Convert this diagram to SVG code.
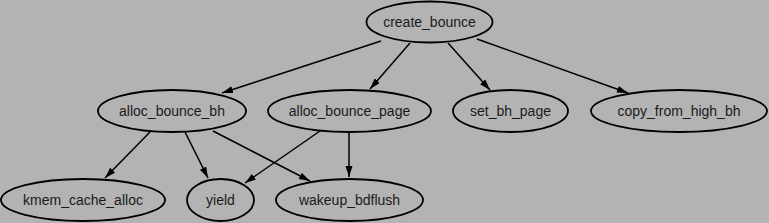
<svg xmlns="http://www.w3.org/2000/svg" width="769" height="223" viewBox="0 0 769 223">
<style>
.n ellipse{fill:none;stroke:#000;stroke-width:1.8}
.n text{font-family:"Liberation Sans",Arial,sans-serif;font-size:14px;fill:#1a1a1a;text-anchor:middle}
#edges line{stroke:#000;stroke-width:1.5;marker-end:url(#ah)}
</style>
<defs>
<marker id="ah" markerUnits="userSpaceOnUse" markerWidth="12" markerHeight="10" refX="11" refY="3.5" orient="auto" viewBox="0 0 12 10">
<path d="M0,0 L11,3.5 L0,7 Z" fill="#000"/>
</marker>
</defs>
<rect width="769" height="223" fill="#b3b3b3"/>
<g id="edges">
<line x1="381" y1="41" x2="222" y2="93"/>
<line x1="410" y1="43" x2="370" y2="89"/>
<line x1="448" y1="43" x2="490" y2="90"/>
<line x1="477" y1="39" x2="628" y2="93"/>
<line x1="150" y1="132" x2="105" y2="178"/>
<line x1="185" y1="132" x2="208" y2="178"/>
<line x1="213" y1="131" x2="310" y2="181"/>
<line x1="320" y1="131" x2="245" y2="183"/>
<line x1="349" y1="132" x2="349" y2="177"/>
</g>
<g id="create_bounce" class="n"><ellipse cx="429.5" cy="22" rx="63" ry="20.5"/><text x="429.5" y="27">create_bounce</text></g>
<g id="alloc_bounce_bh" class="n"><ellipse cx="172" cy="111" rx="74" ry="21"/><text x="172" y="116">alloc_bounce_bh</text></g>
<g id="alloc_bounce_page" class="n"><ellipse cx="349.5" cy="111" rx="81.5" ry="21"/><text x="349.5" y="116">alloc_bounce_page</text></g>
<g id="set_bh_page" class="n"><ellipse cx="510.5" cy="111" rx="57.5" ry="21"/><text x="510.5" y="116">set_bh_page</text></g>
<g id="copy_from_high_bh" class="n"><ellipse cx="679" cy="111" rx="88" ry="21"/><text x="679" y="116">copy_from_high_bh</text></g>
<g id="kmem_cache_alloc" class="n"><ellipse cx="83" cy="200" rx="82" ry="21"/><text x="83" y="205">kmem_cache_alloc</text></g>
<g id="yield" class="n"><ellipse cx="220.5" cy="200" rx="33.5" ry="21"/><text x="220.5" y="205">yield</text></g>
<g id="wakeup_bdflush" class="n"><ellipse cx="349.5" cy="200" rx="73.5" ry="21"/><text x="349.5" y="205">wakeup_bdflush</text></g>
</svg>
